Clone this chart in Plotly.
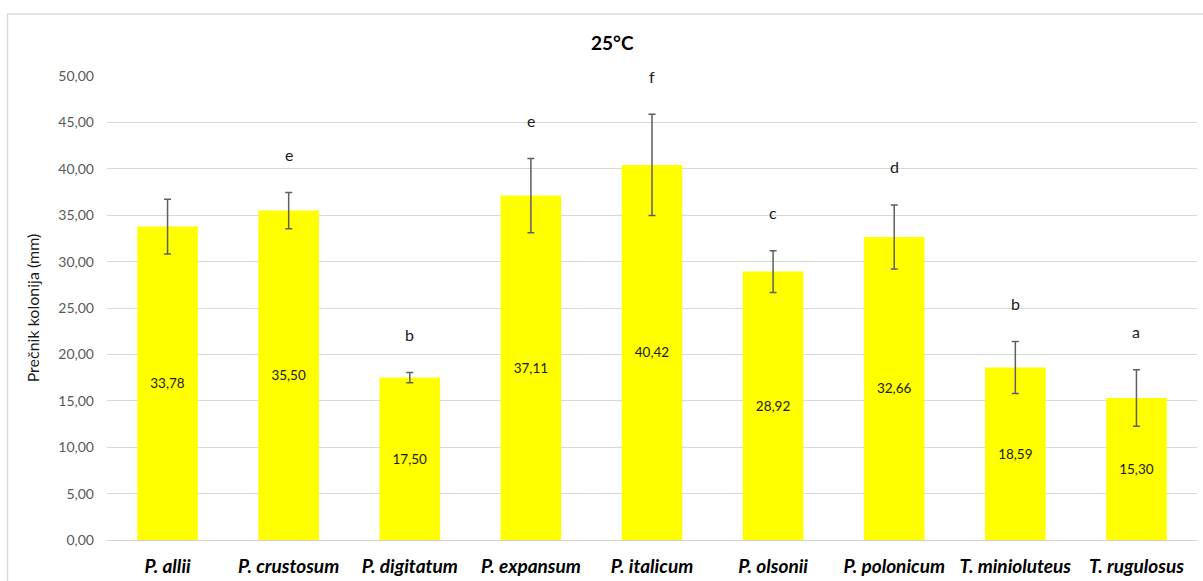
import plotly.graph_objects as go

categories = ["P. allii", "P. crustosum", "P. digitatum", "P. expansum", "P. italicum",
              "P. olsonii", "P. polonicum", "T. minioluteus", "T. rugulosus"]
means = [33.78, 35.50, 17.50, 37.11, 40.42, 28.92, 32.66, 18.59, 15.30]
errors = [2.95, 1.95, 0.55, 4.0, 5.45, 2.25, 3.45, 2.8, 3.05]
letters = ["", "e", "b", "e", "f", "c", "d", "b", "a"]
y_ticks = [0, 5, 10, 15, 20, 25, 30, 35, 40, 45, 50]

FONT = "Lato"
W, H = 1203, 581
ML, MR, MT, MB = 107, 6, 75.5, 41
pw = W - ML - MR
ph = H - MT - MB

def px_x(p):
    return (p - ML) / pw

def px_y(p):
    return (H - MB - p) / ph

fig = go.Figure()
fig.add_trace(go.Bar(
    x=categories, y=means,
    marker=dict(color="#FFFF00", line=dict(width=0)),
    error_y=dict(type="data", array=errors, visible=True, color="#5f5f5f", thickness=1.5, width=3.5),
    text=[f"{v:.2f}".replace(".", ",") for v in means],
    textposition="inside", insidetextanchor="middle", textangle=0,
    textfont=dict(family=FONT, size=13.5, color="#1a1a1a"),
    cliponaxis=False,
    hoverinfo="skip",
))

for c, v, e, l in zip(categories, means, errors, letters):
    if l:
        fig.add_annotation(x=c, y=v + e, text=l, showarrow=False, yshift=38,
                           font=dict(family=FONT, size=16, color="#1a1a1a"))

fig.add_annotation(xref="paper", yref="paper", x=px_x(612), y=px_y(42), text="<b>25°C</b>",
                   showarrow=False, font=dict(family=FONT, size=19, color="#000000"),
                   xanchor="center", yanchor="middle")

fig.add_shape(type="line", xref="paper", yref="paper", x0=px_x(7.5), x1=px_x(1210),
              y0=px_y(13.5), y1=px_y(13.5), line=dict(color="#d9d9d9", width=1.5))
fig.add_shape(type="line", xref="paper", yref="paper", x0=px_x(7.5), x1=px_x(7.5),
              y0=px_y(13.5), y1=px_y(590), line=dict(color="#d9d9d9", width=1.5))

fig.update_layout(
    width=W, height=H,
    margin=dict(l=ML, r=MR, t=MT, b=MB, autoexpand=False),
    paper_bgcolor="white", plot_bgcolor="white",
    separators=",.",
    bargap=0.5,
    showlegend=False,
    font=dict(family=FONT),
)
fig.update_xaxes(
    tickvals=categories,
    ticktext=[f"<b><i>{c}</i></b>" for c in categories],
    tickfont=dict(family=FONT, size=19, color="#000000"),
    showline=True, linecolor="#d0d0d0", linewidth=1,
    ticks="", ticklabelstandoff=9, automargin=False,
    showgrid=False,
)
fig.update_yaxes(
    range=[0, 50], tickvals=y_ticks, tickformat=".2f",
    tickfont=dict(family=FONT, size=14, color="#595959"),
    showgrid=True, gridcolor="#d9d9d9", gridwidth=1,
    zeroline=False, ticks="", ticklabelstandoff=12, automargin=False,
    title=dict(text="Prečnik kolonija (mm)", font=dict(family=FONT, size=16, color="#1a1a1a"), standoff=14),
)

fig.write_html("out.html")
